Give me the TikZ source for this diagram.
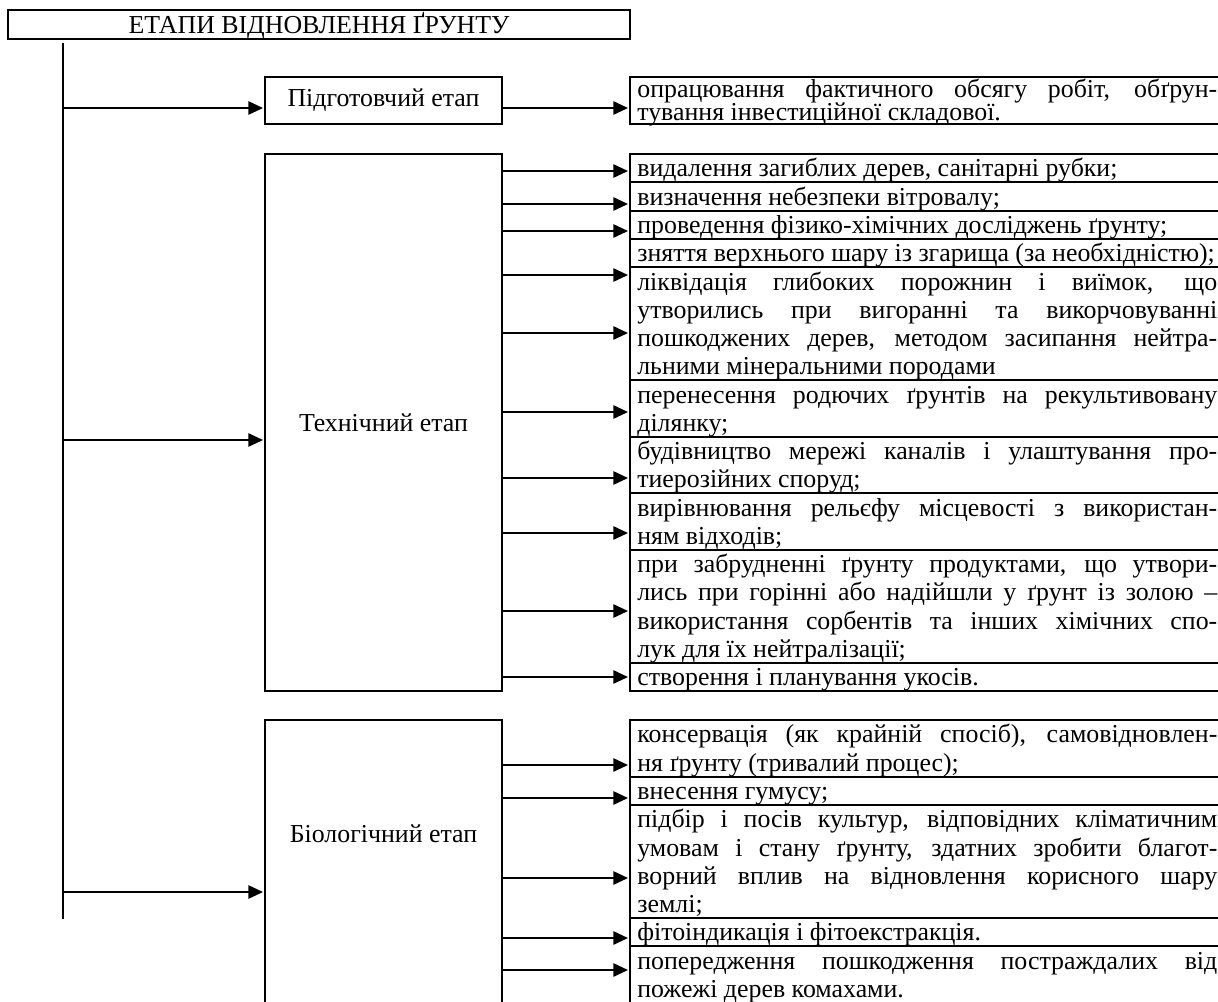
\documentclass[tikz,border=0pt]{standalone}
\usepackage{fontspec}
\setmainfont{Liberation Serif}
\usetikzlibrary{positioning,arrows.meta}
\tikzset{
  stagebox/.style={draw,line width=1.5pt,inner sep=0pt,outer sep=0pt,minimum width=177.75pt},
  rowbox/.style={draw,line width=1.5pt,inner xsep=5.5pt,inner ysep=0pt,outer sep=0pt,
    text width=435pt,align=justify},
  rowlines/.code={\pgfmathsetlengthmacro\rowdepth{#1*21.2pt-17.2pt}%
    \tikzset{minimum height=#1*21.2pt,text height=17.2pt,text depth=\rowdepth}},
  feed/.style={line width=1.3pt,-{Triangle[length=11pt,width=10pt]},shorten >=1.5pt},
}
\begin{document}
\begin{tikzpicture}[x=0.75pt,y=-0.75pt,font=\fontsize{19.4}{21.2}\selectfont]
\useasboundingbox[fill=white] (0,0) rectangle (1218,1001);
% title and trunk
\node[stagebox,minimum width=466.5pt,minimum height=21.75pt,text depth=3pt] (title) at (319,24.5) {ЕТАПИ ВІДНОВЛЕННЯ ҐРУНТУ};
\coordinate (trunktop) at (63,43);
\coordinate (trunkend) at (63,919);
\draw[line width=1pt] (trunktop) -- (trunkend);

% preparatory stage
\node[stagebox,minimum height=35.25pt] (prep) at (383.5,100.5) {Підготовчий етап};
\node[rowbox,anchor=north west,minimum height=35.25pt,text height=15pt,text depth=20.25pt,
  font=\fontsize{19.4}{17.6}\selectfont] (p1) at (630,77)
  {опрацювання фактичного обсягу робіт, обґрун-\linebreak тування інвестиційної складової.};
\draw[feed] (trunktop |- 0,108) -- (prep.west |- 0,108);
\draw[feed] (prep.east |- 0,108) -- (p1.west |- 0,108);

% technical stage
\node[stagebox,minimum height=402.75pt] (tech) at (383.5,422.5) {Технічний етап};
\node[rowbox,rowlines=1,anchor=north west] (t1) at (630,154) {видалення загиблих дерев, санітарні рубки;};
\node[rowbox,rowlines=1,below=0pt of t1] (t2) {визначення небезпеки вітровалу;};
\node[rowbox,rowlines=1,below=0pt of t2] (t3) {проведення фізико-хімічних досліджень ґрунту;};
\node[rowbox,rowlines=1,below=0pt of t3] (t4) {зняття верхнього шару із згарища (за необхідністю);};
\node[rowbox,rowlines=4,below=0pt of t4] (t5) {ліквідація глибоких порожнин і виїмок, що\linebreak
  утворились при вигоранні та викорчовуванні\linebreak
  пошкоджених дерев, методом засипання нейтра-\linebreak
  льними мінеральними породами};
\node[rowbox,rowlines=2,below=0pt of t5] (t6) {перенесення родючих ґрунтів на рекультивовану\linebreak ділянку;};
\node[rowbox,rowlines=2,below=0pt of t6] (t7) {будівництво мережі каналів і улаштування про-\linebreak тиерозійних споруд;};
\node[rowbox,rowlines=2,below=0pt of t7] (t8) {вирівнювання рельєфу місцевості з використан-\linebreak ням відходів;};
\node[rowbox,rowlines=4,below=0pt of t8] (t9) {при забрудненні ґрунту продуктами, що утвори-\linebreak
  лись при горінні або надійшли у ґрунт із золою –\linebreak
  використання сорбентів та інших хімічних спо-\linebreak
  лук для їх нейтралізації;};
\node[rowbox,rowlines=1,below=0pt of t9] (t10) {створення і планування укосів.};
\draw[feed] (trunktop |- 0,440) -- (tech.west |- 0,440);
\draw[feed] (tech.east |- 0,171) -- (t1.west |- 0,171);
\draw[feed] (tech.east |- 0,204) -- (t2.west |- 0,204);
\draw[feed] (tech.east |- 0,231) -- (t3.west |- 0,231);
\draw[feed] (tech.east |- 0,275) -- (t5.west |- 0,275);
\draw[feed] (tech.east |- 0,333) -- (t5.west |- 0,333);
\draw[feed] (tech.east |- 0,412) -- (t6.west |- 0,412);
\draw[feed] (tech.east |- 0,478) -- (t7.west |- 0,478);
\draw[feed] (tech.east |- 0,533) -- (t8.west |- 0,533);
\draw[feed] (tech.east |- 0,611) -- (t9.west |- 0,611);
\draw[feed] (tech.east |- 0,677) -- (t10.west |- 0,677);

% biological stage
\node[stagebox,minimum height=232.5pt] (bio) at (383.5,875) {};
\node (biolabel) at (383.5,834) {Біологічний етап};
\node[rowbox,rowlines=2,anchor=north west] (b1) at (630,720) {консервація (як крайній спосіб), самовідновлен-\linebreak ня ґрунту (тривалий процес);};
\node[rowbox,rowlines=1,below=0pt of b1] (b2) {внесення гумусу;};
\node[rowbox,rowlines=4,below=0pt of b2] (b3) {підбір і посів культур, відповідних кліматичним\linebreak
  умовам і стану ґрунту, здатних зробити благот-\linebreak
  ворний вплив на відновлення корисного шару\linebreak
  землі;};
\node[rowbox,rowlines=1,below=0pt of b3] (b4) {фітоіндикація і фітоекстракція.};
\node[rowbox,rowlines=2,below=0pt of b4] (b5) {попередження пошкодження постраждалих від\linebreak пожежі дерев комахами.};
\draw[feed] (trunktop |- 0,892) -- (bio.west |- 0,892);
\draw[feed] (bio.east |- 0,765) -- (b1.west |- 0,765);
\draw[feed] (bio.east |- 0,798) -- (b2.west |- 0,798);
\draw[feed] (bio.east |- 0,878) -- (b3.west |- 0,878);
\draw[feed] (bio.east |- 0,938) -- (b4.west |- 0,938);
\draw[feed] (bio.east |- 0,970) -- (b5.west |- 0,970);
\end{tikzpicture}
\end{document}
